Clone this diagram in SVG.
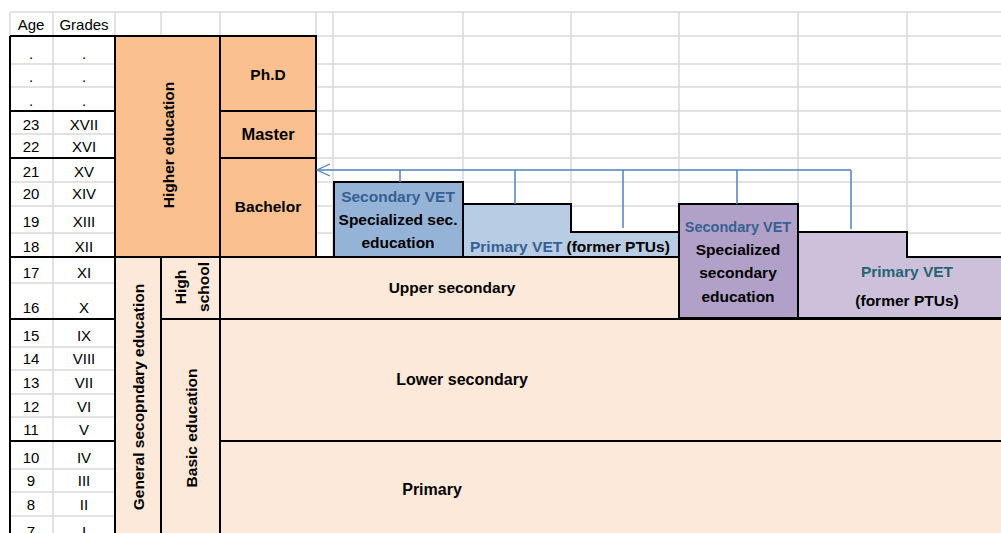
<svg xmlns="http://www.w3.org/2000/svg" width="1001" height="533" viewBox="0 0 1001 533">
<style>
.g{stroke:#d9d9d9;stroke-width:1.5;fill:none}
.b{stroke:#000;stroke-width:2}
.t{font-family:"Liberation Sans",Arial,sans-serif;font-size:15px;fill:#000}
.tb{font-family:"Liberation Sans",Arial,sans-serif;font-size:15.5px;font-weight:bold;fill:#000}
.c{text-anchor:middle}
.blue{fill:#366092}
.teal{fill:#266472}
.conn{stroke:#4f81bd;stroke-width:1.5;fill:none}
</style>
<defs>
<marker id="arr" markerWidth="16" markerHeight="16" refX="14" refY="7" orient="auto" markerUnits="userSpaceOnUse">
<path d="M1,1 L14,7 L1,13" fill="none" stroke="#4f81bd" stroke-width="1.3"/>
</marker>
</defs>
<rect width="1001" height="533" fill="#fff"/>
<g id="grid">
<path class="g" d="M10,12H1001M10,36H1001M10,64H1001M10,87H1001M10,111H1001M10,134H1001M10,158H1001M10,182H1001M10,206H1001M10,233H1001M10,257H1001"/>
<path class="g" d="M10,12V36M53,12V533M115,12V36M161,12V36M220,12V36M316,12V257M333,12V257M463,12V257M571,12V257M679,12V257M798,12V257M907,12V257"/>
<path class="g" d="M10,283H115M10,347H115M10,370H115M10,394H115M10,417H115M10,469H115M10,492H115M10,516H115"/>
</g>
<g id="header">
<text class="t" x="31" y="30" text-anchor="middle">Age</text>
<text class="t" x="84" y="30" text-anchor="middle">Grades</text>
</g>
<g id="ages">
<path class="b" d="M10,36V533M10,36H115M10,111H115M10,158H115M10,257H115M10,319H115M10,441H115"/>
<g class="t c">
<text x="31" y="59">.</text><text x="84" y="59">.</text>
<text x="31" y="82">.</text><text x="84" y="82">.</text>
<text x="31" y="106">.</text><text x="84" y="106">.</text>
<text x="31" y="130">23</text><text x="84" y="130">XVII</text>
<text x="31" y="152">22</text><text x="84" y="152">XVI</text>
<text x="31" y="177">21</text><text x="84" y="177">XV</text>
<text x="31" y="199">20</text><text x="84" y="199">XIV</text>
<text x="31" y="227">19</text><text x="84" y="227">XIII</text>
<text x="31" y="252">18</text><text x="84" y="252">XII</text>
<text x="31" y="278">17</text><text x="84" y="278">XI</text>
<text x="31" y="313">16</text><text x="84" y="313">X</text>
<text x="31" y="341">15</text><text x="84" y="341">IX</text>
<text x="31" y="364">14</text><text x="84" y="364">VIII</text>
<text x="31" y="388">13</text><text x="84" y="388">VII</text>
<text x="31" y="412">12</text><text x="84" y="412">VI</text>
<text x="31" y="435">11</text><text x="84" y="435">V</text>
<text x="31" y="463">10</text><text x="84" y="463">IV</text>
<text x="31" y="486">9</text><text x="84" y="486">III</text>
<text x="31" y="510">8</text><text x="84" y="510">II</text>
<text x="31" y="537">7</text><text x="84" y="537">I</text>
</g>
</g>
<g id="higher-education">
<rect class="b" x="115" y="36" width="105" height="221" fill="#fac090"/>
<text class="tb c" transform="translate(168,145) rotate(-90)" dominant-baseline="central">Higher education</text>
</g>
<g id="phd">
<rect class="b" x="220" y="36" width="96" height="75" fill="#fac090"/>
<text class="tb c" x="268" y="80">Ph.D</text>
</g>
<g id="master">
<rect class="b" x="220" y="111" width="96" height="47" fill="#fac090"/>
<text class="tb c" x="268" y="140" style="font-size:16.5px">Master</text>
</g>
<g id="bachelor">
<rect class="b" x="220" y="158" width="96" height="99" fill="#fac090"/>
<text class="tb c" x="268" y="212">Bachelor</text>
</g>
<g id="general-secondary">
<rect class="b" x="115" y="257" width="46" height="280" fill="#fde9d9"/>
<text class="tb c" transform="translate(138,397) rotate(-90)" dominant-baseline="central">General secopndary education</text>
</g>
<g id="high-school">
<rect class="b" x="161" y="257" width="59" height="62" fill="#fde9d9"/>
<text class="tb c" transform="translate(180,287) rotate(-90)" dominant-baseline="central">High</text>
<text class="tb c" transform="translate(203,287) rotate(-90)" dominant-baseline="central">school</text>
</g>
<g id="basic-education">
<rect class="b" x="161" y="319" width="59" height="218" fill="#fde9d9"/>
<text class="tb c" transform="translate(191,428) rotate(-90)" dominant-baseline="central">Basic education</text>
</g>
<g id="upper-secondary">
<rect class="b" x="220" y="257" width="790" height="62" fill="#fde9d9"/>
<text class="tb c" x="452" y="293">Upper secondary</text>
</g>
<g id="lower-secondary">
<rect class="b" x="220" y="319" width="790" height="122" fill="#fde9d9"/>
<text class="tb c" x="462" y="385" style="font-size:16px">Lower secondary</text>
</g>
<g id="primary">
<rect class="b" x="220" y="441" width="790" height="100" fill="#fde9d9"/>
<text class="tb c" x="432" y="495" style="font-size:16px">Primary</text>
</g>
<g id="secondary-vet-1">
<rect class="b" x="334" y="182" width="129" height="75" fill="#95b3d7"/>
<text class="tb c blue" x="398" y="202">Secondary VET</text>
<text class="tb c" x="398" y="225">Specialized sec.</text>
<text class="tb c" x="398" y="248">education</text>
</g>
<g id="primary-vet-1">
<path class="b" d="M463,257V204H571V232H679V257Z" fill="#b8cce4"/>
<text class="tb" x="470" y="252"><tspan class="blue">Primary VET</tspan> (former PTUs)</text>
</g>
<g id="secondary-vet-2">
<rect class="b" x="679" y="204" width="119" height="114" fill="#b1a0c7"/>
<text class="tb c blue" x="738" y="232" style="font-size:14.5px">Secondary VET</text>
<text class="tb c" x="738" y="255">Specialized</text>
<text class="tb c" x="738" y="278">secondary</text>
<text class="tb c" x="738" y="302">education</text>
</g>
<g id="primary-vet-2">
<path class="b" d="M798,318V232H907V257H1010V318Z" fill="#ccc0da"/>
<text class="tb c teal" x="907" y="277">Primary VET</text>
<text class="tb c" x="907" y="306">(former PTUs)</text>
</g>
<g id="connectors">
<path class="conn" d="M851,170H317" marker-end="url(#arr)"/>
<path class="conn" d="M400,170V182M515,170V204M623,170V228M737,170V204M851,170V229"/>
</g>
</svg>
